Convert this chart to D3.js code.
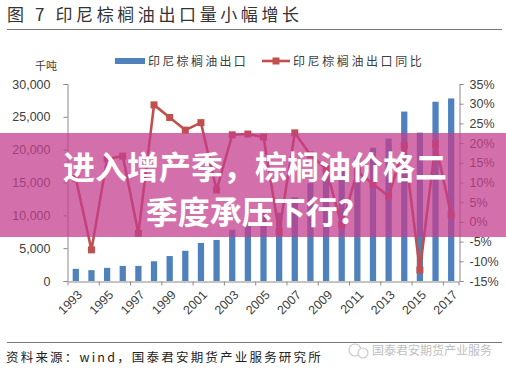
<!DOCTYPE html>
<html>
<head>
<meta charset="utf-8">
<script src="https://cdn.jsdelivr.net/npm/d3@7"></script>
<style>
  html, body { margin: 0; padding: 0; background: #fff; }
  svg { display: block; }
  .cjk { font-family: "Noto Sans CJK SC", sans-serif; }
  .num { font-family: "Liberation Sans", Arial, sans-serif; font-size: 12.5px; fill: #404040; }
</style>
</head>
<body>
<div id="chart"></div>
<script>
// Data
const years = ["1993", "1994", "1995", "1996", "1997", "1998", "1999", "2000", "2001", "2002",
    "2003", "2004", "2005", "2006", "2007", "2008", "2009", "2010", "2011", "2012",
    "2013", "2014", "2015", "2016", "2017"];
// 印尼棕榈油出口 (千吨)
const exports = [1850, 1650, 2000, 2300, 2300, 3000, 3800, 4600, 5800, 6250,
    7800, 8850, 10700, 10400, 12750, 14900, 16900, 16800, 18800, 20300,
    21700, 25800, 22600, 27300, 27800];
// 印尼棕榈油出口同比 (%)
const yoy = [11, -7.1, 16, 16.7, -2.9, 29.7, 26.5, 23.3, 25.2, 8.1,
    22.1, 22.3, 21.5, -2.5, 22.6, 17, 13.5, -0.8, 12.8, 9.6,
    6.5, 19.4, -12.2, 19.8, 1.8];
const leftTicks = [0, 5000, 10000, 15000, 20000, 25000, 30000];
const rightTicks = [-15, -10, -5, 0, 5, 10, 15, 20, 25, 30, 35];
const xLabels = ["1993", "1995", "1997", "1999", "2001", "2003", "2005", "2007", "2009", "2011", "2013", "2015", "2017"];

const width = 506, height = 372;
const plot = { left: 68, right: 459, top: 84, bottom: 281 };
const blue = "#4F81BD", red = "#C0504D";

const svg = d3.select("#chart").append("svg")
    .attr("width", width)
    .attr("height", height);

// Title + rules
svg.append("text")
    .attr("class", "cjk")
    .attr("x", 7).attr("y", 21)
    .attr("font-size", 17)
    .attr("letter-spacing", 3.6)
    .attr("fill", "#333")
    .text("图 7 印尼棕榈油出口量小幅增长");

svg.append("line")
    .attr("x1", 7).attr("x2", 502).attr("y1", 29.5).attr("y2", 29.5)
    .attr("stroke", "#777").attr("stroke-width", 1);

svg.append("line")
    .attr("x1", 7).attr("x2", 502).attr("y1", 342.5).attr("y2", 342.5)
    .attr("stroke", "#777").attr("stroke-width", 1);

// Scales
const x = d3.scaleBand().domain(years).range([plot.left, plot.right]);
const yL = d3.scaleLinear().domain([0, 30000]).range([plot.bottom, plot.top]);
const yR = d3.scaleLinear().domain([-15, 35]).range([plot.bottom, plot.top]);
const barW = x.bandwidth() * 0.4;

// Axes
const axisColor = "#8a8a8a";

const gL = svg.append("g")
    .attr("transform", `translate(${plot.left - 0.5},0)`)
    .call(d3.axisLeft(yL).tickValues(leftTicks).tickSize(4).tickPadding(13).tickFormat(d3.format(",")));
gL.selectAll("text").attr("class", "num");

const gR = svg.append("g")
    .attr("transform", `translate(${plot.right + 0.5},0)`)
    .call(d3.axisRight(yR).tickValues(rightTicks).tickSize(4).tickPadding(6).tickFormat(d => d + "%"));
gR.selectAll("text").attr("class", "num");

const gX = svg.append("g")
    .attr("transform", `translate(0,${plot.bottom + 0.5})`)
    .call(d3.axisBottom(x).tickValues([]).tickSizeOuter(0));

// x ticks on every other category boundary
gX.selectAll(".xtick")
    .data(years.filter((d, i) => i % 2 === 0).concat(["end"]))
    .enter()
    .append("line")
    .attr("x1", d => d === "end" ? plot.right : x(d))
    .attr("x2", d => d === "end" ? plot.right : x(d))
    .attr("y1", 0).attr("y2", 4)
    .attr("stroke", axisColor);

gX.selectAll(".xlab")
    .data(xLabels)
    .enter()
    .append("text")
    .attr("class", "num")
    .attr("text-anchor", "end")
    .attr("transform", d => `translate(${x(d) + x.bandwidth() / 2 + 4},${11}) rotate(-45)`)
    .attr("dy", "0.35em")
    .text(d => d);

[gL, gR, gX].forEach(g => {
    g.selectAll("path").attr("stroke", axisColor);
    g.selectAll(".tick line").attr("stroke", axisColor);
});

// Bars
svg.selectAll(".bar")
    .data(years)
    .enter()
    .append("rect")
    .attr("class", "bar")
    .attr("x", d => x(d) + (x.bandwidth() - barW) / 2)
    .attr("y", (d, i) => yL(exports[i]))
    .attr("width", barW)
    .attr("height", (d, i) => yL(0) - yL(exports[i]))
    .attr("fill", blue);

// YoY line
const line = d3.line()
    .x((d, i) => x(years[i]) + x.bandwidth() / 2)
    .y(d => yR(d));

svg.append("path")
    .datum(yoy)
    .attr("d", line)
    .attr("fill", "none")
    .attr("stroke", red)
    .attr("stroke-width", 2.6)
    .attr("stroke-linejoin", "round");

svg.selectAll(".marker")
    .data(yoy)
    .enter()
    .append("rect")
    .attr("class", "marker")
    .attr("x", (d, i) => x(years[i]) + x.bandwidth() / 2 - 3.5)
    .attr("y", d => yR(d) - 3.5)
    .attr("width", 7).attr("height", 7)
    .attr("fill", red);

// Unit label
svg.append("text")
    .attr("class", "cjk")
    .attr("x", 35).attr("y", 70)
    .attr("font-size", 11)
    .attr("fill", "#404040")
    .text("千吨");

// Legend
const legend = svg.append("g").attr("class", "cjk");
legend.append("rect")
    .attr("x", 115).attr("y", 58).attr("width", 30).attr("height", 6)
    .attr("fill", blue);
legend.append("text")
    .attr("x", 148).attr("y", 65.5)
    .attr("font-size", 12)
    .attr("letter-spacing", 2.3)
    .attr("fill", "#404040")
    .text("印尼棕榈油出口");
legend.append("line")
    .attr("x1", 262).attr("x2", 290).attr("y1", 61).attr("y2", 61)
    .attr("stroke", red).attr("stroke-width", 2.6);
legend.append("rect")
    .attr("x", 272.5).attr("y", 57.5).attr("width", 7).attr("height", 7)
    .attr("fill", red);
legend.append("text")
    .attr("x", 293).attr("y", 65.5)
    .attr("font-size", 12)
    .attr("letter-spacing", 2.6)
    .attr("fill", "#404040")
    .text("印尼棕榈油出口同比");

// Source
svg.append("text")
    .attr("class", "cjk")
    .attr("x", 6).attr("y", 362)
    .attr("font-size", 12.5)
    .attr("letter-spacing", 2.2)
    .attr("fill", "#222")
    .text("资料来源：wind，国泰君安期货产业服务研究所");

// Watermark
const wm = svg.append("g").attr("opacity", 0.75);
wm.append("circle").attr("cx", 355).attr("cy", 350).attr("r", 6)
    .attr("fill", "none").attr("stroke", "#bbb").attr("stroke-width", 1.2);
wm.append("circle").attr("cx", 363).attr("cy", 353).attr("r", 5)
    .attr("fill", "#fff").attr("stroke", "#bbb").attr("stroke-width", 1.2);
wm.append("text")
    .attr("class", "cjk")
    .attr("x", 372).attr("y", 355)
    .attr("font-size", 12)
    .attr("fill", "#aaa")
    .text("国泰君安期货产业服务");

// Banner overlay
svg.append("rect")
    .attr("x", 0).attr("y", 133).attr("width", width).attr("height", 104)
    .attr("fill", "rgb(196, 62, 142)")
    .attr("opacity", 0.74);

svg.append("text")
    .attr("class", "cjk")
    .attr("x", 255).attr("y", 165)
    .attr("text-anchor", "middle")
    .attr("dominant-baseline", "central")
    .attr("font-size", 32)
    .attr("font-weight", "bold")
    .attr("fill", "#fff")
    .text("进入增产季，棕榈油价格二");

svg.append("text")
    .attr("class", "cjk")
    .attr("x", 250).attr("y", 210)
    .attr("text-anchor", "middle")
    .attr("dominant-baseline", "central")
    .attr("font-size", 32)
    .attr("font-weight", "bold")
    .attr("fill", "#fff")
    .text("季度承压下行?");
</script>
</body>
</html>
